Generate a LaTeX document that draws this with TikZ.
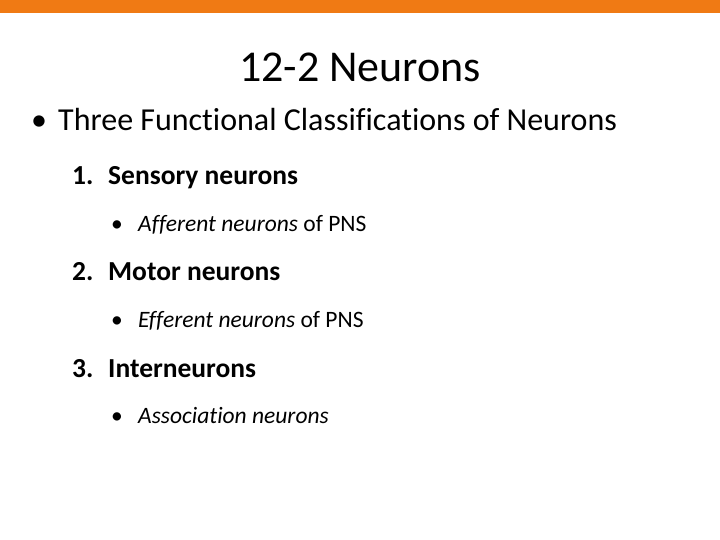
\documentclass[tikz,border=0pt]{standalone}
\usepackage{fontspec}
\setmainfont{Carlito}[Ligatures=NoCommon]
\definecolor{bar}{RGB}{240,122,20}
\begin{document}
\begin{tikzpicture}[x=1pt,y=1pt,
  txt/.style={anchor=base west,inner sep=0pt},
  lvl1/.style={txt,font=\fontsize{32}{36}\selectfont},
  lvl2/.style={txt,font=\fontsize{27.5}{32}\selectfont\bfseries},
  lvl3/.style={txt,font=\fontsize{23.5}{28}\selectfont}]
\useasboundingbox (0,0) rectangle (720,-540);
\fill[bar] (0,0) rectangle (720,-13);
\node[anchor=base,inner sep=0pt,font=\fontsize{44}{48}\selectfont] (title) at (360,-82) {12-2 Neurons};
\node[lvl1] (b) at (31,-131) {\textbullet};
\node[lvl1] (bt) at (58,-131) {Three Functional Classifications of Neurons};
\node[lvl2] (n1) at (72,-185) {1.};
\node[lvl2] (t1) at (108,-185) {Sensory neurons};
\node[lvl3] (s1b) at (111,-231) {\textbullet};
\node[lvl3] (s1) at (138,-231) {\textit{Afferent neurons} of PNS};
\node[lvl2] (n2) at (72,-280) {2.};
\node[lvl2] (t2) at (108,-280) {Motor neurons};
\node[lvl3] (s2b) at (111,-327) {\textbullet};
\node[lvl3] (s2) at (138,-327) {\textit{Efferent neurons} of PNS};
\node[lvl2] (n3) at (72,-377) {3.};
\node[lvl2] (t3) at (108,-377) {Interneurons};
\node[lvl3] (s3b) at (111,-423) {\textbullet};
\node[lvl3] (s3) at (138,-423) {\textit{Association neurons}};
\end{tikzpicture}
\end{document}
